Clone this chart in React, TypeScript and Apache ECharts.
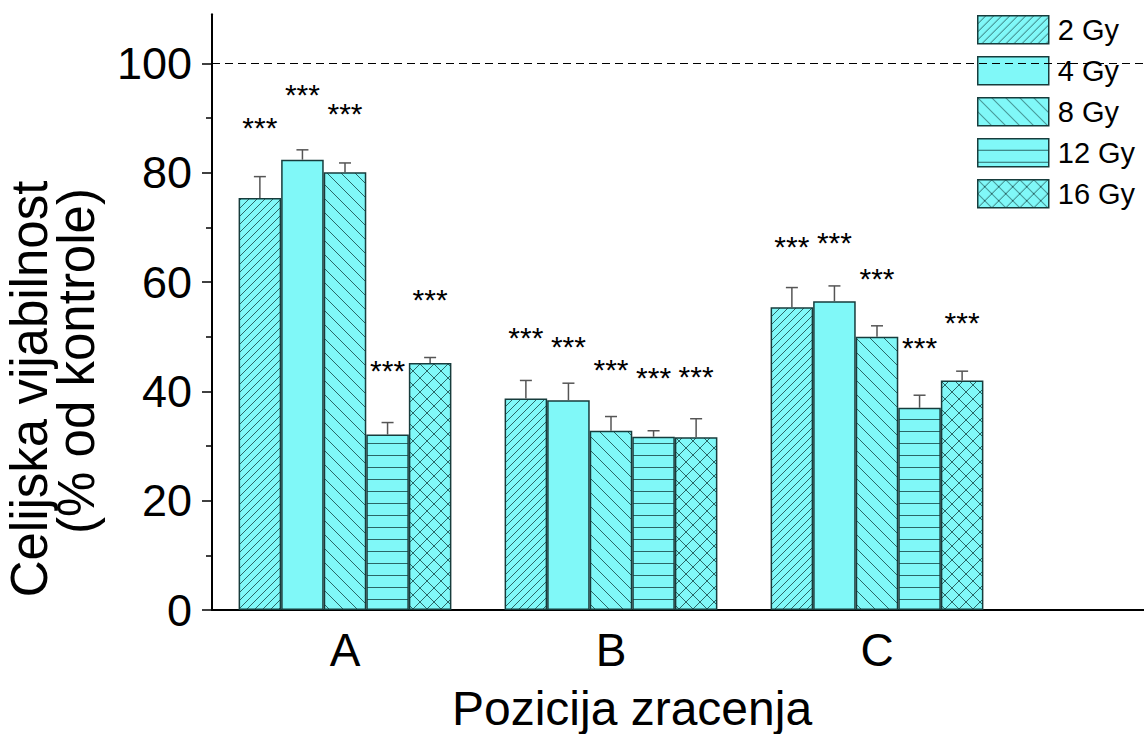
import React, { useEffect, useRef } from 'react';
import * as echarts from 'echarts';

// ---------- data ----------
const categories = ['A', 'B', 'C', ''];
const doses = ['2 Gy', '4 Gy', '8 Gy', '12 Gy', '16 Gy'];

const gy2 = [75.4, 38.7, 55.4];
const gy4 = [82.4, 38.4, 56.5];
const gy8 = [80.1, 32.8, 50.0];
const gy12 = [32.1, 31.7, 37.0];
const gy16 = [45.2, 31.6, 42.0];

// upper error bar (SD)
const err2 = [3.9, 3.3, 3.6];
const err4 = [1.8, 3.1, 2.8];
const err8 = [1.7, 2.6, 2.0];
const err12 = [2.2, 1.1, 2.3];
const err16 = [1.0, 3.4, 1.7];

// height (in axis units) of the "***" significance marks
const sig2 = [89.3, 50.9, 67.7];
const sig4 = [95.5, 49.4, 68.4];
const sig8 = [92.0, 45.1, 61.8];
const sig12 = [44.9, 43.7, 49.1];
const sig16 = [58.0, 43.9, 53.7];

const yMajorTicks = [0, 20, 40, 60, 80, 100];
const yMinorTicks = [10, 30, 50, 70, 90];
const controlLevel = 100;
const sigLabel = '***';
const yTitleLines = ['Celijska vijabilnost', '(% od kontrole)'];
const xTitle = 'Pozicija zracenja';

// ---------- styles ----------
const FONT = '"Liberation Sans", Arial, sans-serif';
const FILL = '#80F8F8';
const HATCH = '#2a6767';
const EDGE = '#173c3c';

function makePattern(kind: string): any {
  if (kind === 'none') return FILL;
  const s = kind === 'fwd' ? 8 : kind === 'horiz' ? 12 : 14;
  const c = document.createElement('canvas');
  c.width = s;
  c.height = s;
  const ctx = c.getContext('2d')!;
  ctx.fillStyle = FILL;
  ctx.fillRect(0, 0, s, s);
  ctx.strokeStyle = HATCH;
  ctx.lineWidth = 1;
  ctx.beginPath();
  if (kind === 'fwd' || kind === 'cross') {
    ctx.moveTo(-1, s + 1); ctx.lineTo(s + 1, -1);
    ctx.moveTo(-1, 1); ctx.lineTo(1, -1);
    ctx.moveTo(s - 1, s + 1); ctx.lineTo(s + 1, s - 1);
  }
  if (kind === 'back' || kind === 'cross') {
    ctx.moveTo(-1, -1); ctx.lineTo(s + 1, s + 1);
    ctx.moveTo(-1, s - 1); ctx.lineTo(1, s + 1);
    ctx.moveTo(s - 1, -1); ctx.lineTo(s + 1, 1);
  }
  if (kind === 'horiz') {
    ctx.moveTo(0, s - 0.5); ctx.lineTo(s, s - 0.5);
  }
  ctx.stroke();
  return { image: c, repeat: 'repeat', imageWidth: s, imageHeight: s };
}

export default function App() {
  const ref = useRef<HTMLDivElement>(null);

  useEffect(() => {
    if (!ref.current) return;
    const chart = echarts.init(ref.current, null, { renderer: 'svg' });

    const values = [gy2, gy4, gy8, gy12, gy16];
    const errs = [err2, err4, err8, err12, err16];
    const sigs = [sig2, sig4, sig8, sig12, sig16];
    const kinds = ['fwd', 'none', 'back', 'horiz', 'cross'];

    const barSeries: any[] = doses.map((name, i) => ({
      name,
      type: 'bar',
      data: values[i],
      barGap: '0%',
      barCategoryGap: '20%',
      itemStyle: {
        color: makePattern(kinds[i]),
        borderColor: EDGE,
        borderWidth: 1.5,
      },
      emphasis: { disabled: true },
      z: 2,
      ...(i === 0
        ? {
            markLine: {
              silent: true,
              symbol: 'none',
              label: { show: false },
              lineStyle: { type: [8, 5], color: '#000', width: 1.2 },
              data: [{ yAxis: controlLevel }],
            },
          }
        : {}),
    }));

    const errData: any[] = [];
    for (let d = 0; d < doses.length; d++) {
      for (let c = 0; c < values[d].length; c++) {
        errData.push([c, d, values[d][c], errs[d][c], sigs[d][c]]);
      }
    }

    const errSeries = {
      type: 'custom',
      name: 'err',
      data: errData,
      encode: { x: 0, y: 2 },
      z: 5,
      silent: true,
      renderItem: (params: any, api: any) => {
        const cat = api.value(0);
        const d = api.value(1);
        const v = api.value(2);
        const e = api.value(3);
        const sg = api.value(4);
        const band = api.size([1, 0])[0];
        const bw = (band * 0.8) / doses.length;
        const cx = api.coord([cat, 0])[0] + (d - (doses.length - 1) / 2) * bw;
        const yTop = api.coord([cat, v])[1];
        const yErr = api.coord([cat, v + e])[1];
        const ySig = api.coord([cat, sg])[1];
        const ls = { stroke: '#555', lineWidth: 1.5 };
        return {
          type: 'group',
          children: [
            { type: 'line', shape: { x1: cx, y1: yTop, x2: cx, y2: yErr }, style: ls },
            { type: 'line', shape: { x1: cx - 6, y1: yErr, x2: cx + 6, y2: yErr }, style: ls },
            {
              type: 'text',
              x: cx,
              y: ySig + 6,
              style: {
                text: sigLabel,
                fontSize: 30,
                fontFamily: FONT,
                fill: '#000',
                align: 'center',
                verticalAlign: 'middle',
              },
            },
          ],
        };
      },
    };

    const titleStyle = {
      fontSize: 51,
      fontFamily: FONT,
      fill: '#000',
      align: 'center',
      verticalAlign: 'middle',
    };

    chart.setOption({
      animation: false,
      grid: {
        left: 212,
        top: 14.3,
        bottom: 124,
        width: 1064,
        containLabel: false,
        outerBoundsMode: 'none',
      },
      legend: {
        data: doses,
        orient: 'vertical',
        left: 977,
        top: 15,
        padding: 0,
        itemWidth: 71,
        itemHeight: 28,
        itemGap: 11.5,
        icon: 'rect',
        selectedMode: false,
        itemStyle: { borderColor: EDGE, borderWidth: 1.5 },
        textStyle: {
          fontSize: 29,
          lineHeight: 28,
          fontFamily: FONT,
          color: '#000',
          padding: [0, 0, 0, 4],
        },
      },
      xAxis: {
        type: 'category',
        data: categories,
        axisLine: { show: true, lineStyle: { color: '#000', width: 2 } },
        axisTick: { show: false },
        axisLabel: { fontSize: 46, fontFamily: FONT, color: '#000', margin: 17 },
        splitLine: { show: false },
      },
      yAxis: [
        {
          type: 'value',
          min: 0,
          max: 109,
          position: 'left',
          axisLine: { show: true, lineStyle: { color: '#000', width: 2 } },
          axisTick: {
            show: true,
            inside: false,
            length: 10,
            customValues: yMajorTicks,
            lineStyle: { color: '#000', width: 1.5 },
          },
          axisLabel: {
            customValues: yMajorTicks,
            fontSize: 45,
            fontFamily: FONT,
            color: '#000',
            margin: 20,
          },
          splitLine: { show: false },
        },
        {
          type: 'value',
          min: 0,
          max: 109,
          position: 'left',
          axisLine: { show: false },
          axisTick: {
            show: true,
            inside: false,
            length: 6,
            customValues: yMinorTicks,
            lineStyle: { color: '#000', width: 1.5 },
          },
          axisLabel: { show: false },
          splitLine: { show: false },
        },
      ],
      graphic: [
        {
          type: 'text',
          x: 29,
          y: 389,
          rotation: Math.PI / 2,
          style: { ...titleStyle, text: yTitleLines[0] },
        },
        {
          type: 'text',
          x: 76,
          y: 361,
          rotation: Math.PI / 2,
          style: { ...titleStyle, text: yTitleLines[1] },
        },
        {
          type: 'text',
          x: 632,
          y: 708,
          style: { ...titleStyle, fontSize: 48, text: xTitle },
        },
      ],
      series: [...barSeries, errSeries],
    });

    return () => chart.dispose();
  }, []);

  return (
    <div
      ref={ref}
      style={{ position: 'fixed', left: 0, top: 0, width: 1144, height: 734, background: '#fff' }}
    />
  );
}
